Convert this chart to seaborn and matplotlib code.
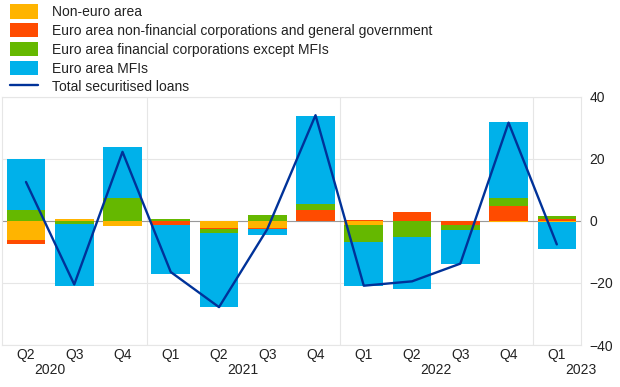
import numpy as np
import matplotlib
matplotlib.use("Agg")
import matplotlib.pyplot as plt
import matplotlib.transforms as mtransforms
from matplotlib.patches import Patch
from matplotlib.lines import Line2D
import seaborn as sns

# ---- data ----
periods = ["2020Q2", "2020Q3", "2020Q4", "2021Q1", "2021Q2", "2021Q3",
           "2021Q4", "2022Q1", "2022Q2", "2022Q3", "2022Q4", "2023Q1"]
quarters = ["Q2", "Q3", "Q4", "Q1", "Q2", "Q3", "Q4", "Q1", "Q2", "Q3", "Q4", "Q1"]
years = ["2020", "2021", "2022", "2023"]
year_pos = [0.5, 4.5, 8.5, 11.5]

non_euro = [-6.3, 0.5, -1.6, 0.0, -2.3, -2.3, 0.0, -1.4, 0.0, 0.0, -0.4, -0.5]
nfc_gg = [-1.3, 0.0, 0.0, -1.3, -0.4, -0.2, 3.5, 0.4, 2.7, -1.3, 4.6, 0.6]
fin_corp = [3.5, -1.1, 7.2, 0.5, -1.3, 1.8, 1.9, -5.4, -5.2, -1.7, 2.8, 0.8]
mfis = [16.5, -19.8, 16.4, -15.7, -23.8, -2.0, 28.3, -14.3, -16.8, -10.8, 24.4, -8.7]
total = [12.5, -20.5, 22.2, -16.5, -27.8, -2.7, 34.0, -20.9, -19.5, -13.8, 31.6, -7.6]

labels = ["Non-euro area",
          "Euro area non-financial corporations and general government",
          "Euro area financial corporations except MFIs",
          "Euro area MFIs",
          "Total securitised loans"]
colors = ["#FFB400", "#FF4B00", "#65B800", "#00B1EA"]
line_color = "#003299"

# ---- style ----
sns.set_theme(style="white")
plt.rcParams["font.family"] = ["Liberation Sans", "DejaVu Sans"]
plt.rcParams["font.size"] = 10
text_color = "#222222"
grid_color = "#e6e6e6"

fig = plt.figure(figsize=(6.2, 3.87), dpi=100)
ax = fig.add_axes([0.003, 0.1085, 0.934, 0.642])

pos_base = np.zeros(len(periods))
neg_base = np.zeros(len(periods))
for vals, col in zip([non_euro, nfc_gg, fin_corp, mfis], colors):
    v = np.asarray(vals, dtype=float)
    pos = np.where(v > 0, v, 0.0)
    neg = np.where(v < 0, v, 0.0)
    sns.barplot(x=periods, y=pos, bottom=pos_base.copy(), color=col, saturation=1,
                width=0.8, errorbar=None, linewidth=0, ax=ax, zorder=2)
    sns.barplot(x=periods, y=neg, bottom=neg_base.copy(), color=col, saturation=1,
                width=0.8, errorbar=None, linewidth=0, ax=ax, zorder=2)
    pos_base += pos
    neg_base += neg

sns.lineplot(x=np.arange(len(periods)), y=total, color=line_color, linewidth=1.7,
             ax=ax, zorder=4, sort=False)

ax.axhline(0, color="#999999", linewidth=0.8, zorder=1)

ax.set_xlim(-0.5, len(periods) - 0.5)
ax.set_ylim(-40, 40)
ax.set_yticks([-40, -20, 0, 20, 40])
ax.yaxis.tick_right()
ax.tick_params(axis="y", length=0, pad=6, labelsize=10, labelcolor=text_color)
ax.set_xticks(np.arange(len(periods)))
ax.set_xticklabels(quarters)
ax.set_xticks([2.5, 6.5, 10.5], minor=True)
ax.tick_params(axis="x", which="major", length=5, width=0.8, color=grid_color,
               pad=-3.0, labelsize=10, labelcolor=text_color)
ax.tick_params(axis="x", which="minor", length=5, width=0.8, color=grid_color)
ax.grid(axis="y", which="major", color=grid_color, linewidth=0.8, zorder=0)
ax.grid(axis="x", which="minor", color=grid_color, linewidth=0.8, zorder=0)
ax.set_axisbelow(True)
ax.set_xlabel("")
ax.set_ylabel("")
for s in ax.spines.values():
    s.set_visible(True)
    s.set_color(grid_color)
    s.set_linewidth(0.8)

trans = mtransforms.blended_transform_factory(ax.transData, ax.transAxes)
for yr, xp in zip(years, year_pos):
    ax.text(xp, -0.1, yr, transform=trans, ha="center", va="center",
            fontsize=10, color=text_color)

handles = [Patch(facecolor=c, edgecolor="none") for c in colors]
handles.append(Line2D([0], [0], color=line_color, linewidth=1.7))
fig.legend(handles, labels, loc="upper left", bbox_to_anchor=(0.016, 0.99),
           frameon=False, fontsize=10, handlelength=2.0, handleheight=1.25,
           handletextpad=1.0, labelspacing=0.28, borderpad=0, borderaxespad=0,
           labelcolor=text_color)

fig.savefig("out.png", dpi=100)
